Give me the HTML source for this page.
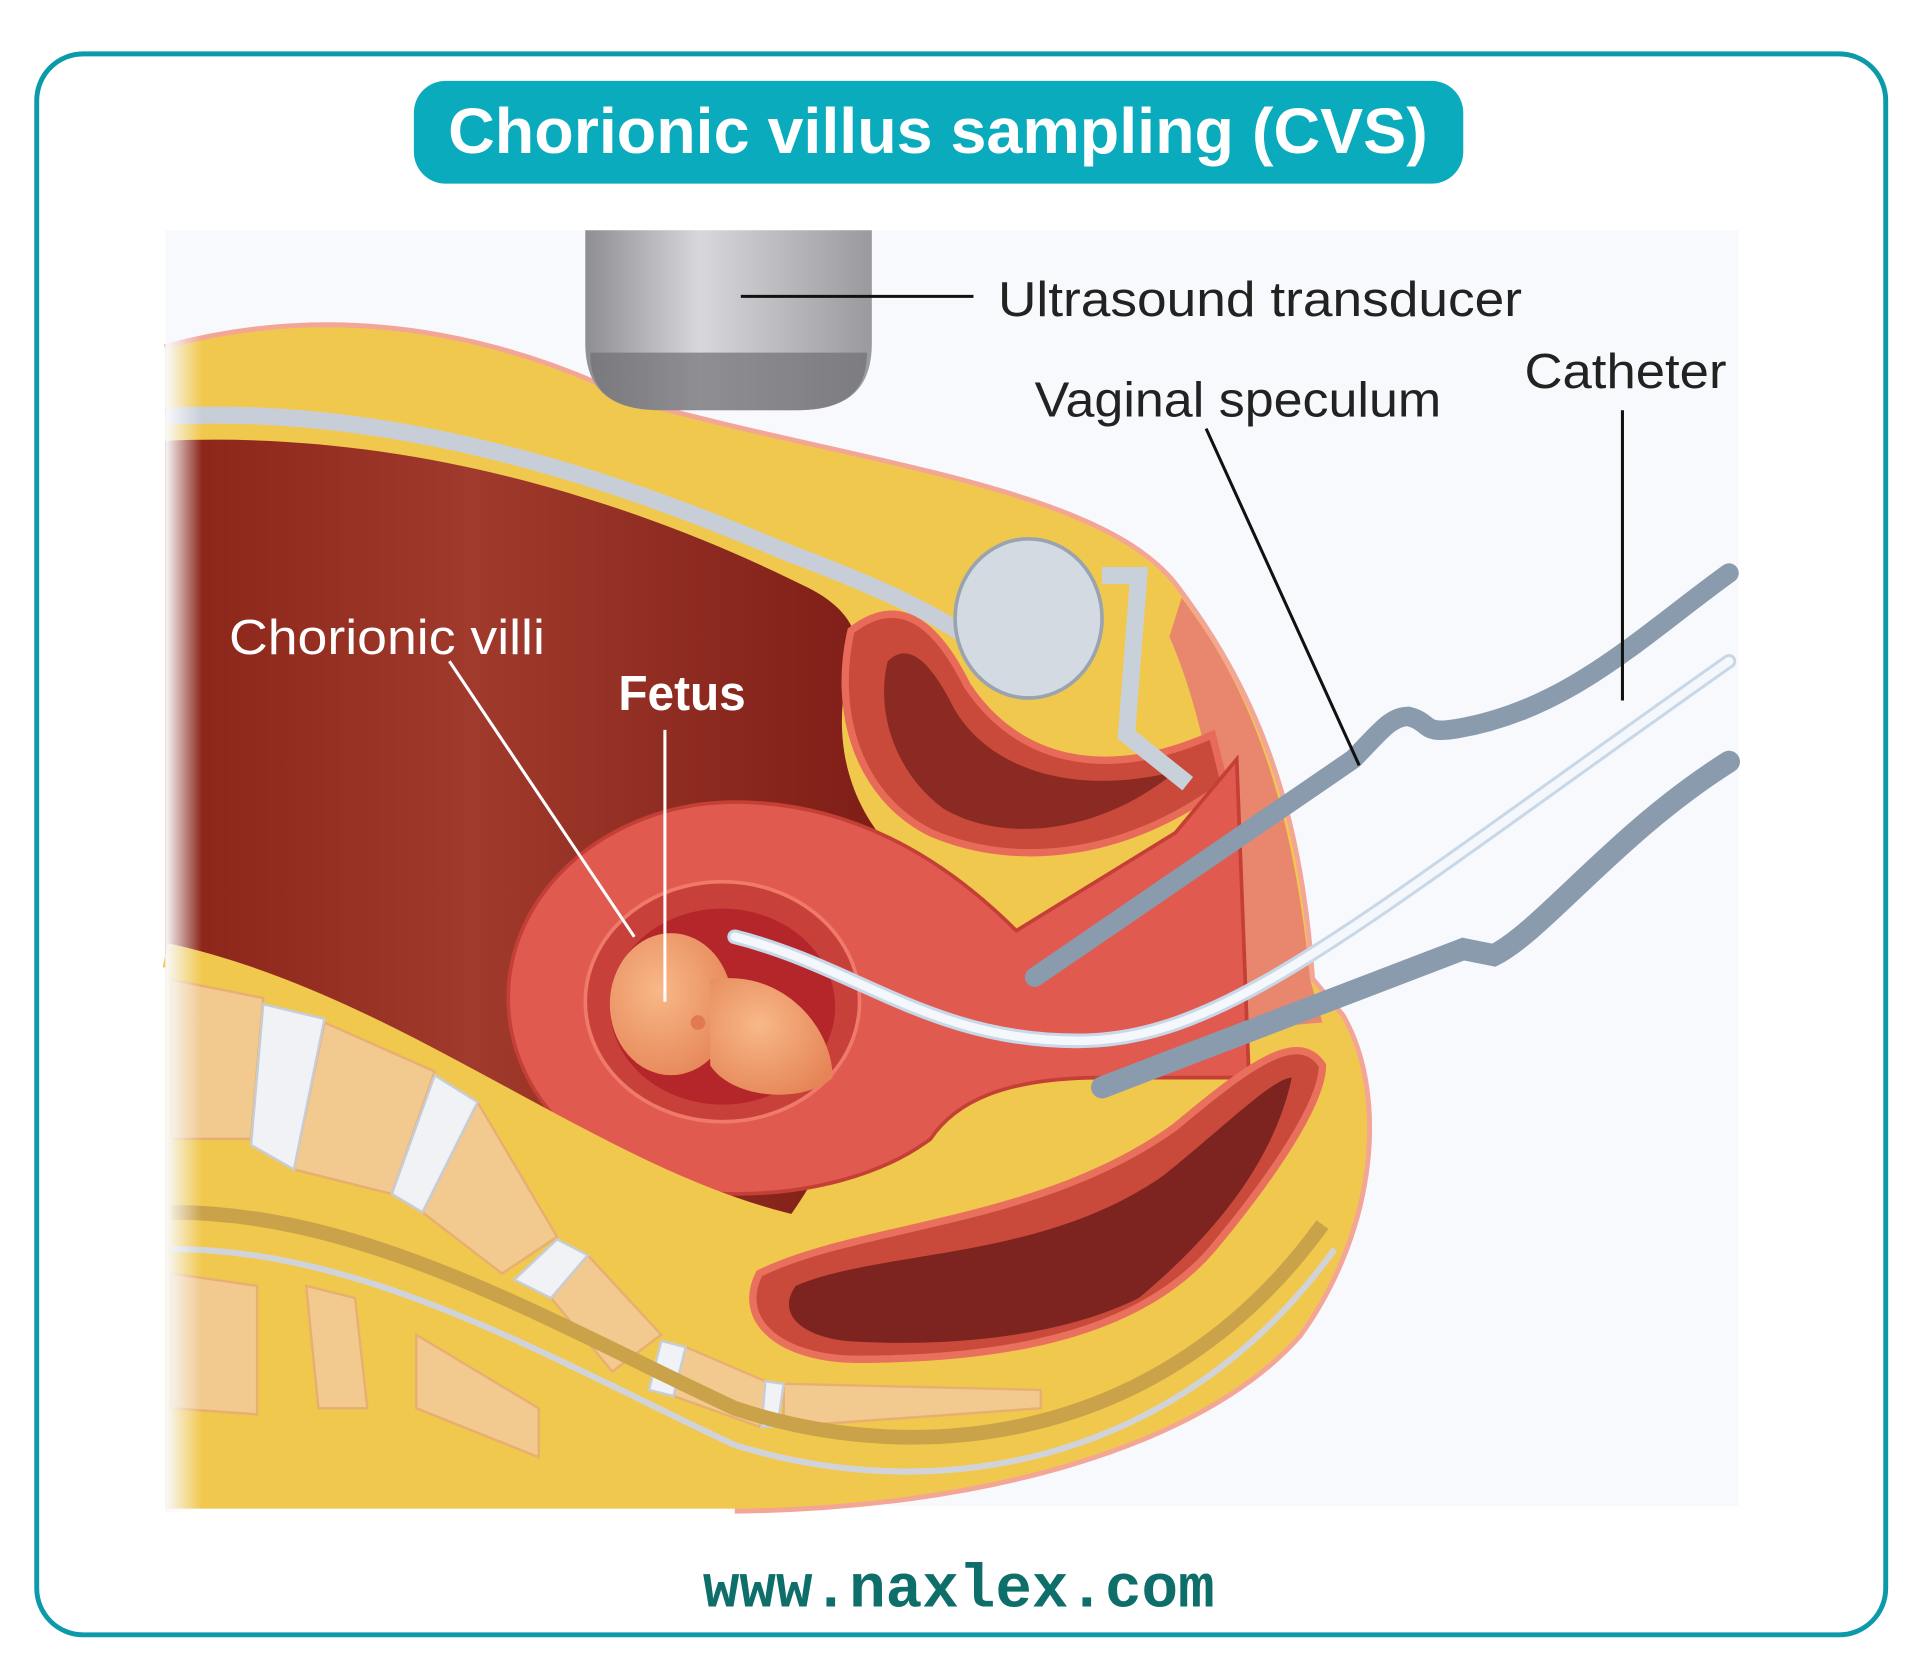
<!DOCTYPE html>
<html><head><meta charset="utf-8"><style>
html,body{margin:0;padding:0;background:#fff;}
svg{display:block;}
</style></head><body>
<svg width="1920" height="1674" viewBox="0 0 1568 1367" preserveAspectRatio="none" xmlns="http://www.w3.org/2000/svg">
<defs>
<linearGradient id="cav" x1="0" y1="0" x2="1" y2="0"><stop offset="0" stop-color="#8a2418"/><stop offset="0.4" stop-color="#a03a2c"/><stop offset="1" stop-color="#7a1a14"/></linearGradient>
<linearGradient id="tr" x1="0" y1="0" x2="1" y2="0"><stop offset="0" stop-color="#8e8e92"/><stop offset="0.4" stop-color="#d8d8dc"/><stop offset="1" stop-color="#9a9a9e"/></linearGradient>
<radialGradient id="fet" cx="0.4" cy="0.4" r="0.7"><stop offset="0" stop-color="#f8b888"/><stop offset="1" stop-color="#e58456"/></radialGradient>
<linearGradient id="fade" x1="0" y1="0" x2="1" y2="0"><stop offset="0" stop-color="#f8f9fc" stop-opacity="1"/><stop offset="1" stop-color="#f8f9fc" stop-opacity="0"/></linearGradient>
</defs>
<rect x="0" y="0" width="1568" height="1367" fill="#fff"/>
<rect x="30" y="44" width="1510" height="1291" rx="38" fill="#fff" stroke="#0c9aaa" stroke-width="4"/>
<rect x="135" y="188" width="1285" height="1042" fill="#f8f9fc"/>
<path d="M135,285 C300,240 440,290 520,330 C700,380 900,400 960,480 C1020,560 1060,650 1070,800 L1095,830 C1130,890 1125,1000 1060,1090 C980,1180 800,1230 600,1232" fill="none" stroke="#f3a596" stroke-width="8"/>
<path d="M135,285 C300,240 440,290 520,330 C700,380 900,400 960,480 C1020,560 1060,650 1070,800 L1095,830 C1130,890 1125,1000 1060,1090 C980,1180 800,1230 600,1232 L135,1232 Z" fill="#f1c84e"/>
<path d="M965,488 C1020,560 1055,650 1070,800 L1080,835 L1020,840 C1000,700 990,600 955,520 Z" fill="#e9876e"/>
<path d="M135,340 C320,330 500,390 640,450 C720,480 760,500 790,520" fill="none" stroke="#c7ced8" stroke-width="14"/>
<path d="M135,360 C350,350 540,420 660,480 C700,500 710,530 690,560 C680,620 700,680 760,720 C720,820 700,920 640,1000 C500,960 300,820 135,780 Z" fill="url(#cav)"/>
<path d="M695,515 C740,480 770,520 790,560 C830,620 900,640 990,600 L1000,640 C920,700 830,710 760,680 C700,650 680,580 695,515 Z" fill="#c94a3a" stroke="#e86a58" stroke-width="6"/>
<path d="M725,540 C745,520 765,550 780,580 C810,630 880,650 960,630 C900,680 820,690 770,660 C730,630 715,580 725,540 Z" fill="#8a2a22"/>
<ellipse cx="840" cy="505" rx="60" ry="65" fill="#d4dae2" stroke="#9aa4b0" stroke-width="3"/>
<path d="M900,470 L930,470 L920,600 L970,640" fill="none" stroke="#c8d0da" stroke-width="14"/>
<path d="M600,655 C720,655 800,730 830,760 L960,680 L1010,620 L1020,880 L900,880 C820,880 780,900 760,930 C720,960 660,975 600,975 C500,975 415,905 415,815 C415,725 500,655 600,655 Z" fill="#e05a50" stroke="#c43f36" stroke-width="3"/>
<ellipse cx="590" cy="818" rx="112" ry="98" fill="#c8403a" stroke="#f07a6a" stroke-width="3"/>
<ellipse cx="590" cy="822" rx="92" ry="80" fill="#b5262a"/>
<ellipse cx="548" cy="820" rx="50" ry="58" fill="url(#fet)"/>
<path d="M580,800 C640,790 680,840 680,880 C660,900 600,900 580,870 Z" fill="url(#fet)"/>
<circle cx="570" cy="835" r="6" fill="#e07a50"/>
<path d="M135,780 C320,820 480,960 640,1000 C800,1040 900,1080 1000,1080" fill="none" stroke="#f1c84e" stroke-width="20"/>
<g fill="#f2c98e" stroke="#e8b070" stroke-width="2">
<path d="M140,800 L215,815 L205,930 L140,930 Z"/>
<path d="M265,835 L355,875 L320,975 L240,955 Z"/>
<path d="M390,900 L455,1010 L410,1040 L345,990 Z"/>
<path d="M480,1025 L540,1090 L500,1120 L450,1060 Z"/>
<path d="M560,1100 L630,1130 L620,1165 L550,1140 Z"/>
<path d="M640,1130 L850,1135 L850,1150 L640,1165 Z"/>
<path d="M140,1040 L210,1050 L210,1155 L140,1150 Z"/>
<path d="M250,1050 L290,1060 L300,1150 L260,1150 Z"/>
<path d="M340,1090 L440,1150 L440,1190 L340,1150 Z"/>
</g>
<g fill="#f0f2f6" stroke="#c8ccd4" stroke-width="2">
<path d="M215,820 L265,832 L240,955 L205,935 Z"/>
<path d="M355,878 L390,900 L345,990 L320,975 Z"/>
<path d="M455,1012 L480,1025 L450,1060 L420,1045 Z"/>
<path d="M540,1095 L560,1100 L550,1140 L530,1135 Z"/>
<path d="M625,1128 L640,1130 L635,1165 L622,1165 Z"/>
</g>
<path d="M140,990 C300,990 450,1080 600,1150 C750,1200 950,1180 1080,1000" fill="none" stroke="#c9a24a" stroke-width="12"/>
<path d="M140,1020 C300,1020 450,1110 600,1180 C760,1230 960,1200 1090,1020" fill="none" stroke="#d0d4da" stroke-width="5"/>
<path d="M620,1040 C700,1000 850,1000 960,920 C1020,870 1060,840 1080,870 C1080,900 1040,960 990,1020 C930,1090 820,1110 700,1110 C640,1110 600,1080 620,1040 Z" fill="#c94a3a" stroke="#e8705c" stroke-width="6"/>
<path d="M650,1050 C720,1020 850,1030 950,960 C1000,920 1040,880 1055,880 C1040,950 990,1010 930,1060 C860,1095 760,1100 690,1095 C650,1090 635,1070 650,1050 Z" fill="#7e2420"/>
<rect x="135" y="260" width="30" height="975" fill="url(#fade)"/>
<path d="M478,188 L712,188 L712,280 C712,320 690,335 650,335 L540,335 C500,335 478,320 478,280 Z" fill="url(#tr)"/>
<path d="M482,288 C482,320 500,335 540,335 L650,335 C690,335 708,320 708,288 Z" fill="#6f6f74" opacity="0.7"/>
<g fill="none" stroke="#8b9bae" stroke-linecap="round">
<path d="M845,798 L1105,620 C1125,600 1135,585 1150,585 C1170,590 1160,600 1190,595 C1280,580 1340,520 1412,468" stroke-width="16"/>
<path d="M900,888 L1195,775 L1220,780 C1260,760 1320,680 1412,622" stroke-width="18"/>
</g>
<path d="M600,765 C700,790 760,850 880,850 C1000,850 1100,760 1412,540" fill="none" stroke="#c8d8e8" stroke-width="12" stroke-linecap="round"/>
<path d="M600,765 C700,790 760,850 880,850 C1000,850 1100,760 1412,540" fill="none" stroke="#f4f8fc" stroke-width="7" stroke-linecap="round"/>
<g stroke="#111" stroke-width="2.5">
<line x1="605" y1="242" x2="795" y2="242"/>
<line x1="985" y1="350" x2="1110" y2="625"/>
<line x1="1325" y1="335" x2="1325" y2="572"/>
</g>
<g stroke="#fff" stroke-width="2.5">
<line x1="367" y1="540" x2="518" y2="765"/>
<line x1="543" y1="596" x2="543" y2="818"/>
</g>
<rect x="338" y="66" width="857" height="84" rx="26" fill="#0aabbd"/>
<text x="766" y="125" text-anchor="middle" font-family="'Liberation Sans',sans-serif" font-weight="bold" font-size="52" fill="#fff" textLength="800" lengthAdjust="spacingAndGlyphs">Chorionic villus sampling (CVS)</text>
<g font-family="'Liberation Sans',sans-serif" font-size="40" fill="#222">
<text x="815" y="258" textLength="428" lengthAdjust="spacingAndGlyphs">Ultrasound transducer</text>
<text x="845" y="340" textLength="332" lengthAdjust="spacingAndGlyphs">Vaginal speculum</text>
<text x="1245" y="317" textLength="165" lengthAdjust="spacingAndGlyphs">Catheter</text>
</g>
<g font-family="'Liberation Sans',sans-serif" font-size="40" fill="#fff">
<text x="187" y="534" textLength="258" lengthAdjust="spacingAndGlyphs">Chorionic villi</text>
<text x="505" y="580" font-weight="bold" textLength="104" lengthAdjust="spacingAndGlyphs">Fetus</text>
</g>
<text x="783" y="1312" text-anchor="middle" font-family="'Liberation Mono',monospace" font-weight="bold" font-size="50" fill="#0d6e6a" textLength="418" lengthAdjust="spacingAndGlyphs">www.naxlex.com</text>
</svg>
</body></html>
